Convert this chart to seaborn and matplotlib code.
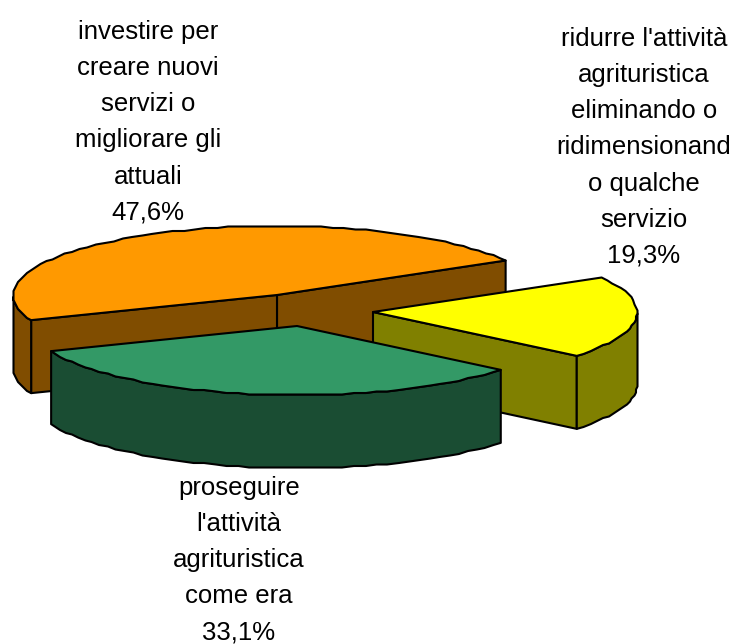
import numpy as np
import matplotlib
matplotlib.use('Agg')
import matplotlib.pyplot as plt
import seaborn as sns

labels = ["investire per\ncreare nuovi\nservizi o\nmigliorare gli\nattuali\n47,6%",
          "proseguire\nl'attività\nagrituristica\ncome era\n33,1%",
          "ridurre l'attività\nagrituristica\neliminando o\nridimensionand\no qualche\nservizio\n19,3%"]
values = [47.6, 33.1, 19.3]
top_colors = ['#FF9900', '#339966', '#FFFF00']
side_colors = ['#804D00', '#1A4D33', '#808000']

# layout of the fake 3d pie, in pixels
rx, ry = 264, 69
depth = 73
start = 30
centers = [(277, 295), (297, 326), (373, 312)]
label_pos = [(148, 20), (239, 476), (644, 27)]

sns.set_theme(style='white')
plt.rcParams['font.family'] = ['Liberation Sans', 'DejaVu Sans']

fig = plt.figure(figsize=(7.36, 6.44), dpi=100)
ax = fig.add_axes([0, 0, 1, 1])
ax.set_xlim(0, 736)
ax.set_ylim(644, 0)
ax.axis('off')


def pt(c, deg):
    t = np.radians(deg)
    return c[0] + rx * np.cos(t), c[1] - ry * np.sin(t)


def rough(xs, ys):
    # old office charts draw the ellipse a bit stepped, keep the ends exact
    xr, yr = np.round(xs / 1.5) * 1.5, np.round(ys / 1.5) * 1.5
    xr[[0, -1]], yr[[0, -1]] = xs[[0, -1]], ys[[0, -1]]
    return xr, yr


def draw_face(xs, ys, color, z):
    ax.fill(xs, ys, facecolor=color, edgecolor='black', lw=1.5, joinstyle='round', zorder=z)


a = start
for i, v in enumerate(values):
    b = a + v / sum(values) * 360
    c = centers[i]
    z = [1, 3, 2][i]
    ts = np.linspace(a, b, max(int((b - a) / 2.5), 2) + 1)
    px, py = rough(*pt(c, ts))

    # straight cut faces, only those turned to the viewer
    for e, normal in ((a, a - 90), (b, b + 90)):
        if np.sin(np.radians(normal)) < 0:
            ex, ey = pt(c, e)
            draw_face([c[0], ex, ex, c[0]], [c[1], ey, ey + depth, c[1] + depth], side_colors[i], z)

    # outer rim, only the part facing us (lower half of the ellipse)
    low = np.sin(np.radians(ts)) <= 0
    if low.any():
        lx, ly = px[low], py[low]
        draw_face(np.r_[lx, lx[::-1]], np.r_[ly, ly[::-1] + depth], side_colors[i], z)

    draw_face(np.r_[c[0], px], np.r_[c[1], py], top_colors[i], z)
    a = b

for txt, (x, y) in zip(labels, label_pos):
    ax.text(x, y, txt, ha='center', va='top', fontsize=18.5, linespacing=1.64, color='black', zorder=5)

fig.savefig('out.png', dpi=100)
